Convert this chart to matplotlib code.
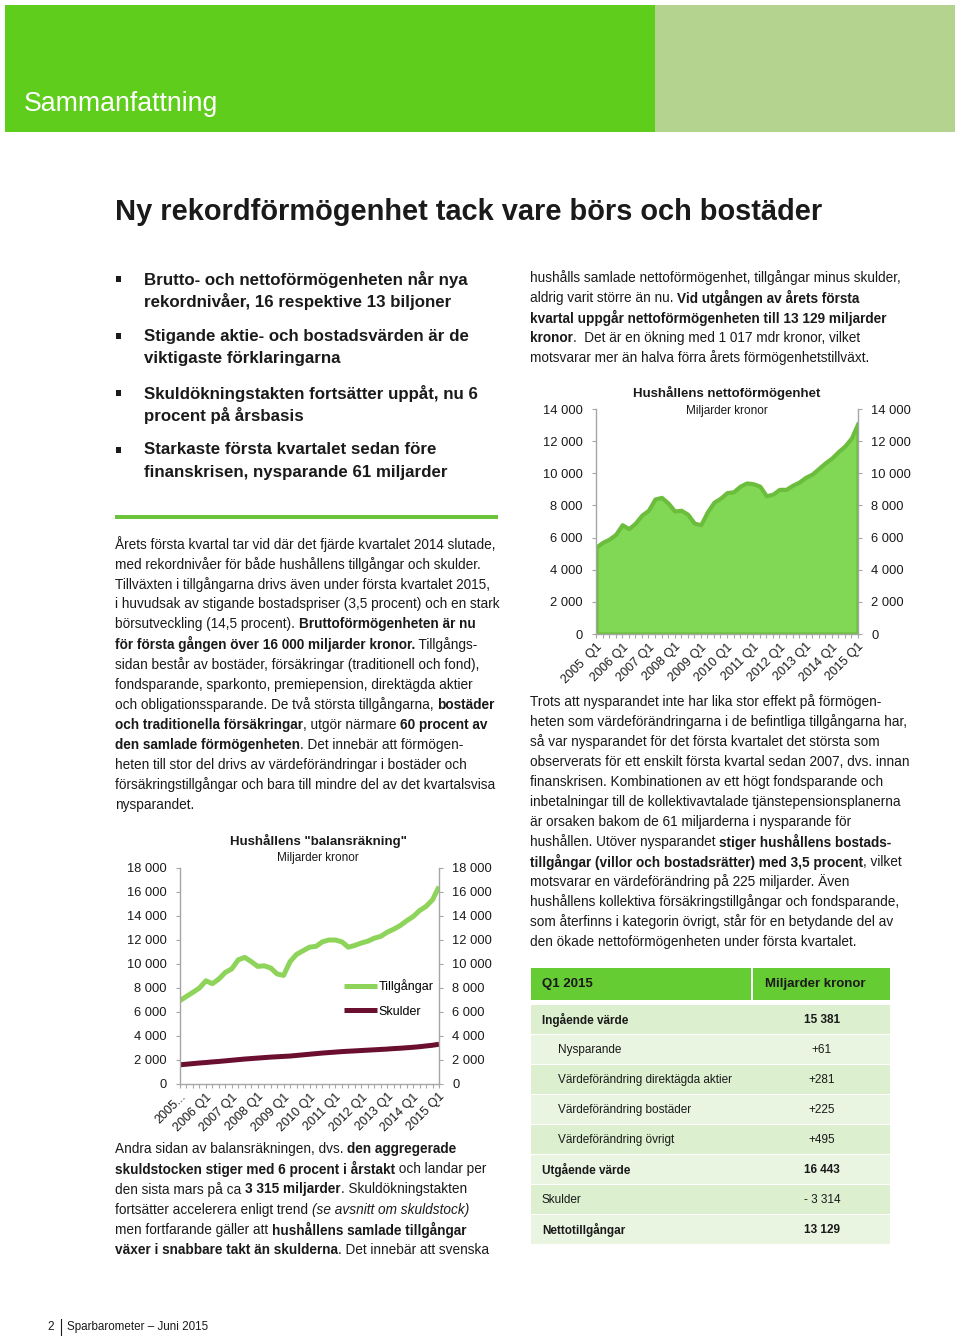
import numpy as np
import matplotlib
matplotlib.use("Agg")
import matplotlib.pyplot as plt
from matplotlib.patches import Rectangle
from matplotlib.ticker import FuncFormatter

plt.rcParams["font.family"] = ["Liberation Sans", "DejaVu Sans"]

# ---- data ----
kvartal = np.arange(41)
etiketter_netto = ["2005  Q1", "2006 Q1", "2007 Q1", "2008 Q1", "2009 Q1", "2010 Q1",
                   "2011 Q1", "2012 Q1", "2013 Q1", "2014 Q1", "2015 Q1"]
etiketter_balans = ["2005...", "2006 Q1", "2007 Q1", "2008 Q1", "2009 Q1", "2010 Q1",
                    "2011 Q1", "2012 Q1", "2013 Q1", "2014 Q1", "2015 Q1"]

netto = [5400, 5700, 5900, 6200, 6800, 6550, 6900, 7400, 7700, 8400, 8500, 8150,
         7650, 7700, 7450, 6900, 6800, 7600, 8200, 8450, 8800, 8850, 9200, 9400,
         9350, 9200, 8600, 8700, 9000, 9000, 9250, 9450, 9750, 9950, 10300, 10650,
         10950, 11350, 11700, 12200, 13129]
tillgangar = [6950, 7300, 7640, 8000, 8600, 8360, 8750, 9300, 9600, 10350, 10550, 10200,
              9800, 9850, 9670, 9170, 9050, 10200, 10800, 11100, 11400, 11470, 11850, 12000,
              12000, 11850, 11400, 11550, 11750, 11900, 12150, 12300, 12650, 12900, 13200, 13600,
              13950, 14450, 14800, 15350, 16443]
skulder = [1600, 1650, 1700, 1750, 1790, 1840, 1880, 1930, 1980, 2030, 2080, 2120,
           2160, 2200, 2240, 2270, 2300, 2330, 2380, 2430, 2480, 2530, 2580, 2620,
           2660, 2700, 2730, 2760, 2790, 2820, 2850, 2880, 2910, 2950, 2980, 3020,
           3060, 3110, 3170, 3230, 3314]

tabell_rubrik = ["Q1 2015", "Miljarder kronor"]
tabell_rader = ["Ingående värde", "Nysparande", "Värdeförändring direktägda aktier",
                "Värdeförändring bostäder", "Värdeförändring övrigt", "Utgående värde",
                "Skulder", "Nettotillgångar"]
tabell_varden = ["15 381", "+61", "+281", "+225", "+495", "16 443", "- 3 314", "13 129"]
tabell_fet = [True, False, False, False, False, True, False, True]
tabell_indrag = [False, True, True, True, True, False, False, False]

punkter = [
    ["Brutto- och nettoförmögenheten når nya", "rekordnivåer, 16 respektive 13 biljoner"],
    ["Stigande aktie- och bostadsvärden är de", "viktigaste förklaringarna"],
    ["Skuldökningstakten fortsätter uppåt, nu 6", "procent på årsbasis"],
    ["Starkaste första kvartalet sedan före", "finanskrisen, nysparande 61 miljarder"],
]

text_hoger_topp = [
    [("hushålls samlade nettoförmögenhet, tillgångar minus skulder,", "")],
    [("aldrig varit större än nu. ", ""), ("Vid utgången av årets första", "b")],
    [("kvartal uppgår nettoförmögenheten till 13 129 miljarder", "b")],
    [("kronor", "b"), (".  Det är en ökning med 1 017 mdr kronor, vilket", "")],
    [("motsvarar mer än halva förra årets förmögenhetstillväxt.", "")],
]

text_vanster = [
    [("Årets första kvartal tar vid där det fjärde kvartalet 2014 slutade,", "")],
    [("med rekordnivåer för både hushållens tillgångar och skulder.", "")],
    [("Tillväxten i tillgångarna drivs även under första kvartalet 2015,", "")],
    [("i huvudsak av stigande bostadspriser (3,5 procent) och en stark", "")],
    [("börsutveckling (14,5 procent). ", ""), ("Bruttoförmögenheten är nu", "b")],
    [("för första gången över 16 000 miljarder kronor.", "b"), (" Tillgångs-", "")],
    [("sidan består av bostäder, försäkringar (traditionell och fond),", "")],
    [("fondsparande, sparkonto, premiepension, direktägda aktier", "")],
    [("och obligationssparande. De två största tillgångarna, ", ""), ("bostäder", "b")],
    [("och traditionella försäkringar", "b"), (", utgör närmare ", ""), ("60 procent av", "b")],
    [("den samlade förmögenheten", "b"), (". Det innebär att förmögen-", "")],
    [("heten till stor del drivs av värdeförändringar i bostäder och", "")],
    [("försäkringstillgångar och bara till mindre del av det kvartalsvisa", "")],
    [("nysparandet.", "")],
]

text_hoger = [
    [("Trots att nysparandet inte har lika stor effekt på förmögen-", "")],
    [("heten som värdeförändringarna i de befintliga tillgångarna har,", "")],
    [("så var nysparandet för det första kvartalet det största som", "")],
    [("observerats för ett enskilt första kvartal sedan 2007, dvs. innan", "")],
    [("finanskrisen. Kombinationen av ett högt fondsparande och", "")],
    [("inbetalningar till de kollektivavtalade tjänstepensionsplanerna", "")],
    [("är orsaken bakom de 61 miljarderna i nysparande för", "")],
    [("hushållen. Utöver nysparandet ", ""), ("stiger hushållens bostads-", "b")],
    [("tillgångar (villor och bostadsrätter) med 3,5 procent", "b"), (", vilket", "")],
    [("motsvarar en värdeförändring på 225 miljarder. Även", "")],
    [("hushållens kollektiva försäkringstillgångar och fondsparande,", "")],
    [("som återfinns i kategorin övrigt, står för en betydande del av", "")],
    [("den ökade nettoförmögenheten under första kvartalet.", "")],
]

text_botten = [
    [("Andra sidan av balansräkningen, dvs. ", ""), ("den aggregerade", "b")],
    [("skuldstocken stiger med 6 procent i årstakt", "b"), (" och landar per", "")],
    [("den sista mars på ca ", ""), ("3 315 miljarder", "b"), (". Skuldökningstakten", "")],
    [("fortsätter accelerera enligt trend ", ""), ("(se avsnitt om skuldstock)", "i")],
    [("men fortfarande gäller att ", ""), ("hushållens samlade tillgångar", "b")],
    [("växer i snabbare takt än skulderna", "b"), (". Det innebär att svenska", "")],
]

# ---- colours ----
TXT = "#1a1a1a"
GREEN = "#5fcd1b"
LIGHT = "#b4d38f"
GRAY = "#a6a6a6"

W, H = 960, 1336
fig = plt.figure(figsize=(W / 100, H / 100), dpi=100)
page = fig.add_axes([0, 0, 1, 1])
page.set_xlim(0, W)
page.set_ylim(H, 0)
page.axis("off")
renderer = fig.canvas.get_renderer()


def seg_width(txt, size, weight, style):
    # width incl. trailing spaces: measure with a bar appended, subtract the bar
    a = page.text(0, 0, txt + "|", fontsize=size, fontweight=weight, fontstyle=style)
    b = page.text(0, 0, "|", fontsize=size, fontweight=weight, fontstyle=style)
    w = a.get_window_extent(renderer).width - b.get_window_extent(renderer).width
    a.remove()
    b.remove()
    return w


def rich_line(x, y, segs, size):
    for txt, st in segs:
        weight = "bold" if "b" in st else "normal"
        fstyle = "italic" if "i" in st else "normal"
        page.text(x, y, txt, fontsize=size, fontweight=weight, fontstyle=fstyle,
                  va="center", ha="left", color=TXT)
        x += seg_width(txt, size, weight, fstyle)


def paragraph(x, y0, step, lines, size):
    for i, segs in enumerate(lines):
        rich_line(x, y0 + i * step, segs, size)


# header band
page.add_patch(Rectangle((5, 5), 650, 127, color=GREEN, lw=0))
page.add_patch(Rectangle((655, 5), 300, 127, color=LIGHT, lw=0))
page.text(24, 104, "Sammanfattning", fontsize=19.2, color="white", va="center", ha="left")

# title
page.text(115, 212, "Ny rekordförmögenhet tack vare börs och bostäder", fontsize=20.9,
          fontweight="bold", color=TXT, va="center", ha="left")

# bullets
for i, p in enumerate(punkter):
    y = 279 + i * 57
    page.add_patch(Rectangle((116, y - 3), 5, 6, color=TXT, lw=0))
    for j, line in enumerate(p):
        page.text(144, y + j * 22.5, line, fontsize=12.2, fontweight="bold",
                  color=TXT, va="center", ha="left")
page.add_patch(Rectangle((115, 515), 383, 4, color="#6cc43a", lw=0))

BODY = 9.8
paragraph(530, 278, 20, text_hoger_topp, BODY)
paragraph(115, 544, 20.08, text_vanster, BODY)
paragraph(530, 702, 20, text_hoger, BODY)
paragraph(115, 1149, 20.2, text_botten, BODY)

# footer
page.text(47, 1327, "2", fontsize=8.4, color=TXT, va="center", ha="left")
page.plot([61, 61], [1319, 1336], color=TXT, lw=0.8)
page.text(67, 1327, "Sparbarometer – Juni 2015", fontsize=8.4, color=TXT,
          va="center", ha="left")

# table
tx0, tx1, tdiv = 531, 890, 752
page.add_patch(Rectangle((tx0, 968), tdiv - tx0 - 1, 32, color="#66cc33", lw=0))
page.add_patch(Rectangle((tdiv + 1, 968), tx1 - tdiv - 1, 32, color="#66cc33", lw=0))
page.text(542, 984, tabell_rubrik[0], fontsize=9.5, fontweight="bold", color=TXT,
          va="center", ha="left")
page.text(765, 984, tabell_rubrik[1], fontsize=9.5, fontweight="bold", color=TXT,
          va="center", ha="left")
for i, (lab, val) in enumerate(zip(tabell_rader, tabell_varden)):
    top = 1005 + i * 30
    col = "#dcefcf" if i % 2 == 0 else "#e9f5e1"
    page.add_patch(Rectangle((tx0, top), tx1 - tx0, 28.5, color=col, lw=0))
    w = "bold" if tabell_fet[i] else "normal"
    x = 558 if tabell_indrag[i] else 542
    page.text(x, top + 15, lab, fontsize=8.5, fontweight=w, color=TXT, va="center", ha="left")
    page.text(822, top + 15, val, fontsize=8.5, fontweight=w, color=TXT, va="center", ha="center")

fmt = FuncFormatter(lambda v, p: f"{int(v):,}".replace(",", " "))


def style_chart(ax, ymax, step, labels):
    ax.set_facecolor("none")
    ax.set_xlim(0, 40)
    ax.set_ylim(0, ymax)
    ax.set_yticks(np.arange(0, ymax + 1, step))
    ax.yaxis.set_major_formatter(fmt)
    ax.tick_params(axis="y", left=True, right=True, labelleft=True, labelright=True,
                   direction="out", length=3, color=GRAY, labelsize=9.3, labelcolor=TXT, pad=6.4)
    ax.set_xticks(kvartal)
    ax.set_xticklabels([labels[i // 4] if i % 4 == 0 else "" for i in kvartal],
                       rotation=45, ha="right", rotation_mode="anchor")
    ax.tick_params(axis="x", direction="out", length=3, color=GRAY, labelsize=9,
                   labelcolor=TXT, pad=2)
    ax.spines["top"].set_visible(False)
    for s in ("left", "right", "bottom"):
        ax.spines[s].set_color(GRAY)
        ax.spines[s].set_linewidth(1.0)


def frac(l, r, top, bot):
    return [l / W, 1 - bot / H, (r - l) / W, (bot - top) / H]


# net wealth chart
ax1 = fig.add_axes(frac(596, 858, 409, 634))
ax1.fill_between(kvartal, netto, 0, facecolor="#80d855", edgecolor="#6cbd3d", lw=3,
                 joinstyle="round")
style_chart(ax1, 14000, 2000, etiketter_netto)
page.text(727, 393, "Hushållens nettoförmögenhet", fontsize=9.5, fontweight="bold",
          color=TXT, va="center", ha="center")
page.text(727, 411, "Miljarder kronor", fontsize=8.5, color=TXT, va="center", ha="center")

# balance chart
ax2 = fig.add_axes(frac(180, 439, 868, 1084))
ax2.plot(kvartal, tillgangar, color="#8ed45a", lw=3.6, solid_capstyle="butt", label="Tillgångar")
ax2.plot(kvartal, skulder, color="#6b0f30", lw=3.6, solid_capstyle="butt", label="Skulder")
style_chart(ax2, 18000, 2000, etiketter_balans)
ax2.legend(loc="upper left", bbox_to_anchor=(0.608, 0.514), frameon=False, fontsize=9,
           handlelength=2.64, handletextpad=0.15, labelspacing=1.0, borderpad=0)
page.text(318, 841, 'Hushållens "balansräkning"', fontsize=9.5, fontweight="bold",
          color=TXT, va="center", ha="center")
page.text(318, 858, "Miljarder kronor", fontsize=8.5, color=TXT, va="center", ha="center")

fig.savefig("out.png", dpi=100)
